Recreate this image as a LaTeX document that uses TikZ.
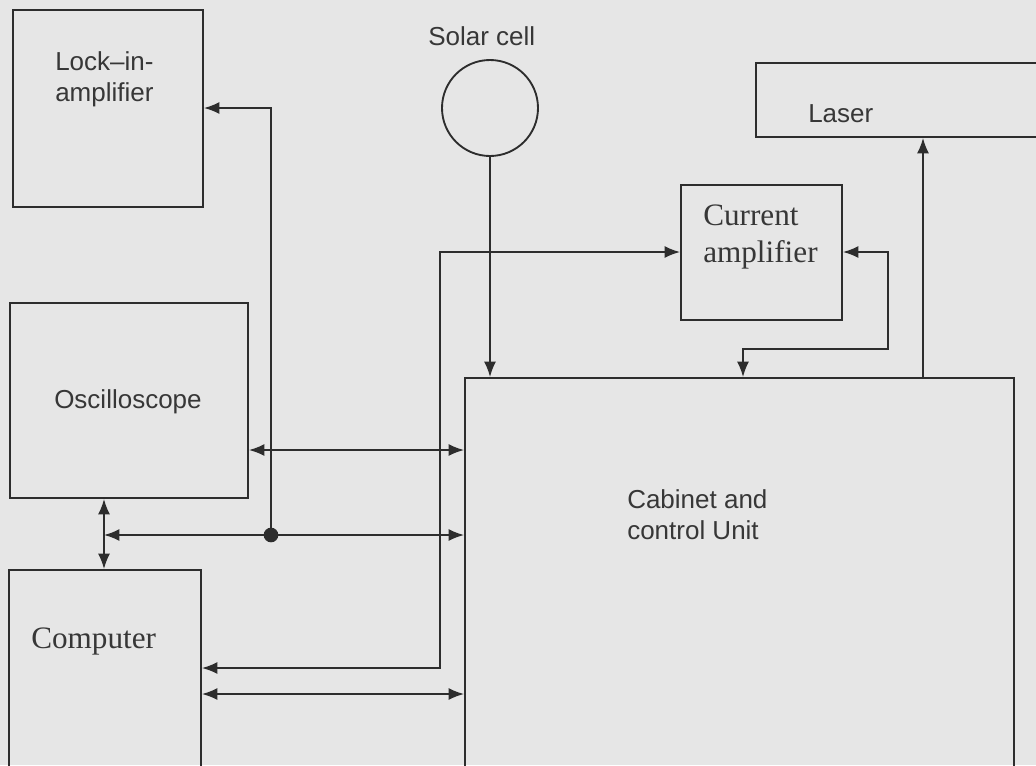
\documentclass[tikz,border=0pt]{standalone}
\usepackage{fontspec}
\setmainfont{Liberation Serif}
\newfontfamily\arialfont{Liberation Sans}
\usetikzlibrary{arrows.meta,fit}
\definecolor{bg}{RGB}{230,230,230}
\definecolor{ink}{RGB}{45,45,45}
\definecolor{txt}{RGB}{55,55,55}
\tikzset{
  box/.style={draw=ink, line width=1.4pt, inner sep=0pt},
  conn/.style={draw=ink, line width=1.4pt, -{Latex[length=11.5pt,width=9pt]}},
  dconn/.style={draw=ink, line width=1.4pt, {Latex[length=11.5pt,width=9pt]}-{Latex[length=11.5pt,width=9pt]}},
  sanslbl/.style={font=\arialfont\fontsize{19.5pt}{23.25pt}\selectfont, text=txt, inner sep=0pt, anchor=base west},
  seriflbl/.style={font=\fontsize{23.4pt}{27.75pt}\selectfont, text=txt, inner sep=0pt, anchor=base west},
}
\begin{document}
\begin{tikzpicture}[x=0.75pt,y=-0.75pt]
\useasboundingbox (0,0) rectangle (1036,765);
\fill[bg] (0,0) rectangle (1036,765);
\clip (0,0) rectangle (1036,765);

% boxes
\node[box, fit={(13,10) (203,207)}] (lock) {};
\node[box, fit={(756,63) (1060,137)}] (laser) {};
\node[box, fit={(681,185) (842,320)}] (curr) {};
\node[box, fit={(10,303) (248,498)}] (osc) {};
\node[box, fit={(9,570) (201,820)}] (comp) {};
\node[box, fit={(465,378) (1014,820)}] (cab) {};
\node[draw=ink, line width=1.4pt, circle, minimum size=72pt, inner sep=0pt] (solar) at (490,108) {};

% labels
\node[sanslbl] (lockA) at (55,70) {Lock–in-};
\node[sanslbl] (lockB) at (55,101) {amplifier};
\node[sanslbl] (solarlbl) at (428,45) {Solar cell};
\node[sanslbl] (laserlbl) at (808,122) {Laser};
\node[seriflbl] (currA) at (703,225) {Current};
\node[seriflbl] (currB) at (703,262) {amplifier};
\node[sanslbl] (osclbl) at (54,408) {Oscilloscope};
\node[seriflbl] (complbl) at (31,648) {Computer};
\node[sanslbl] (cabA) at (627,508) {Cabinet and};
\node[sanslbl] (cabB) at (627,539) {control Unit};

% junction coordinates
\coordinate (dot) at (271,535);
\coordinate (lockbend) at (271,108);
\coordinate (vbus) at (104,535);
\coordinate (ca1) at (440,252);
\coordinate (ca2) at (440,668);
\coordinate (cr1) at (888,252);
\coordinate (cr2) at (888,349);
\coordinate (cr3) at (743,349);
\coordinate (laserx) at (923,0);
\coordinate (oscrow) at (0,450);
\coordinate (comprow) at (0,694);

% connectors
\draw[conn] (dot) -- (lockbend) -- (lock.east |- lockbend);
\draw[conn] (solar.south) -- (solar.south |- cab.north);
\draw[dconn] (curr.west |- ca1) -- (ca1) -- (ca2) -- (comp.east |- ca2);
\draw[dconn] (curr.east |- cr1) -- (cr1) -- (cr2) -- (cr3) -- (cr3 |- cab.north);
\draw[conn] (laserx |- cab.north) -- (laserx |- laser.south);
\draw[dconn] (osc.east |- oscrow) -- (cab.west |- oscrow);
\draw[dconn] (vbus) -- (cab.west |- vbus);
\draw[dconn] (vbus |- osc.south) -- (vbus |- comp.north);
\draw[dconn] (comp.east |- comprow) -- (cab.west |- comprow);
\fill[ink] (dot) circle (5.5pt);
\end{tikzpicture}
\end{document}
